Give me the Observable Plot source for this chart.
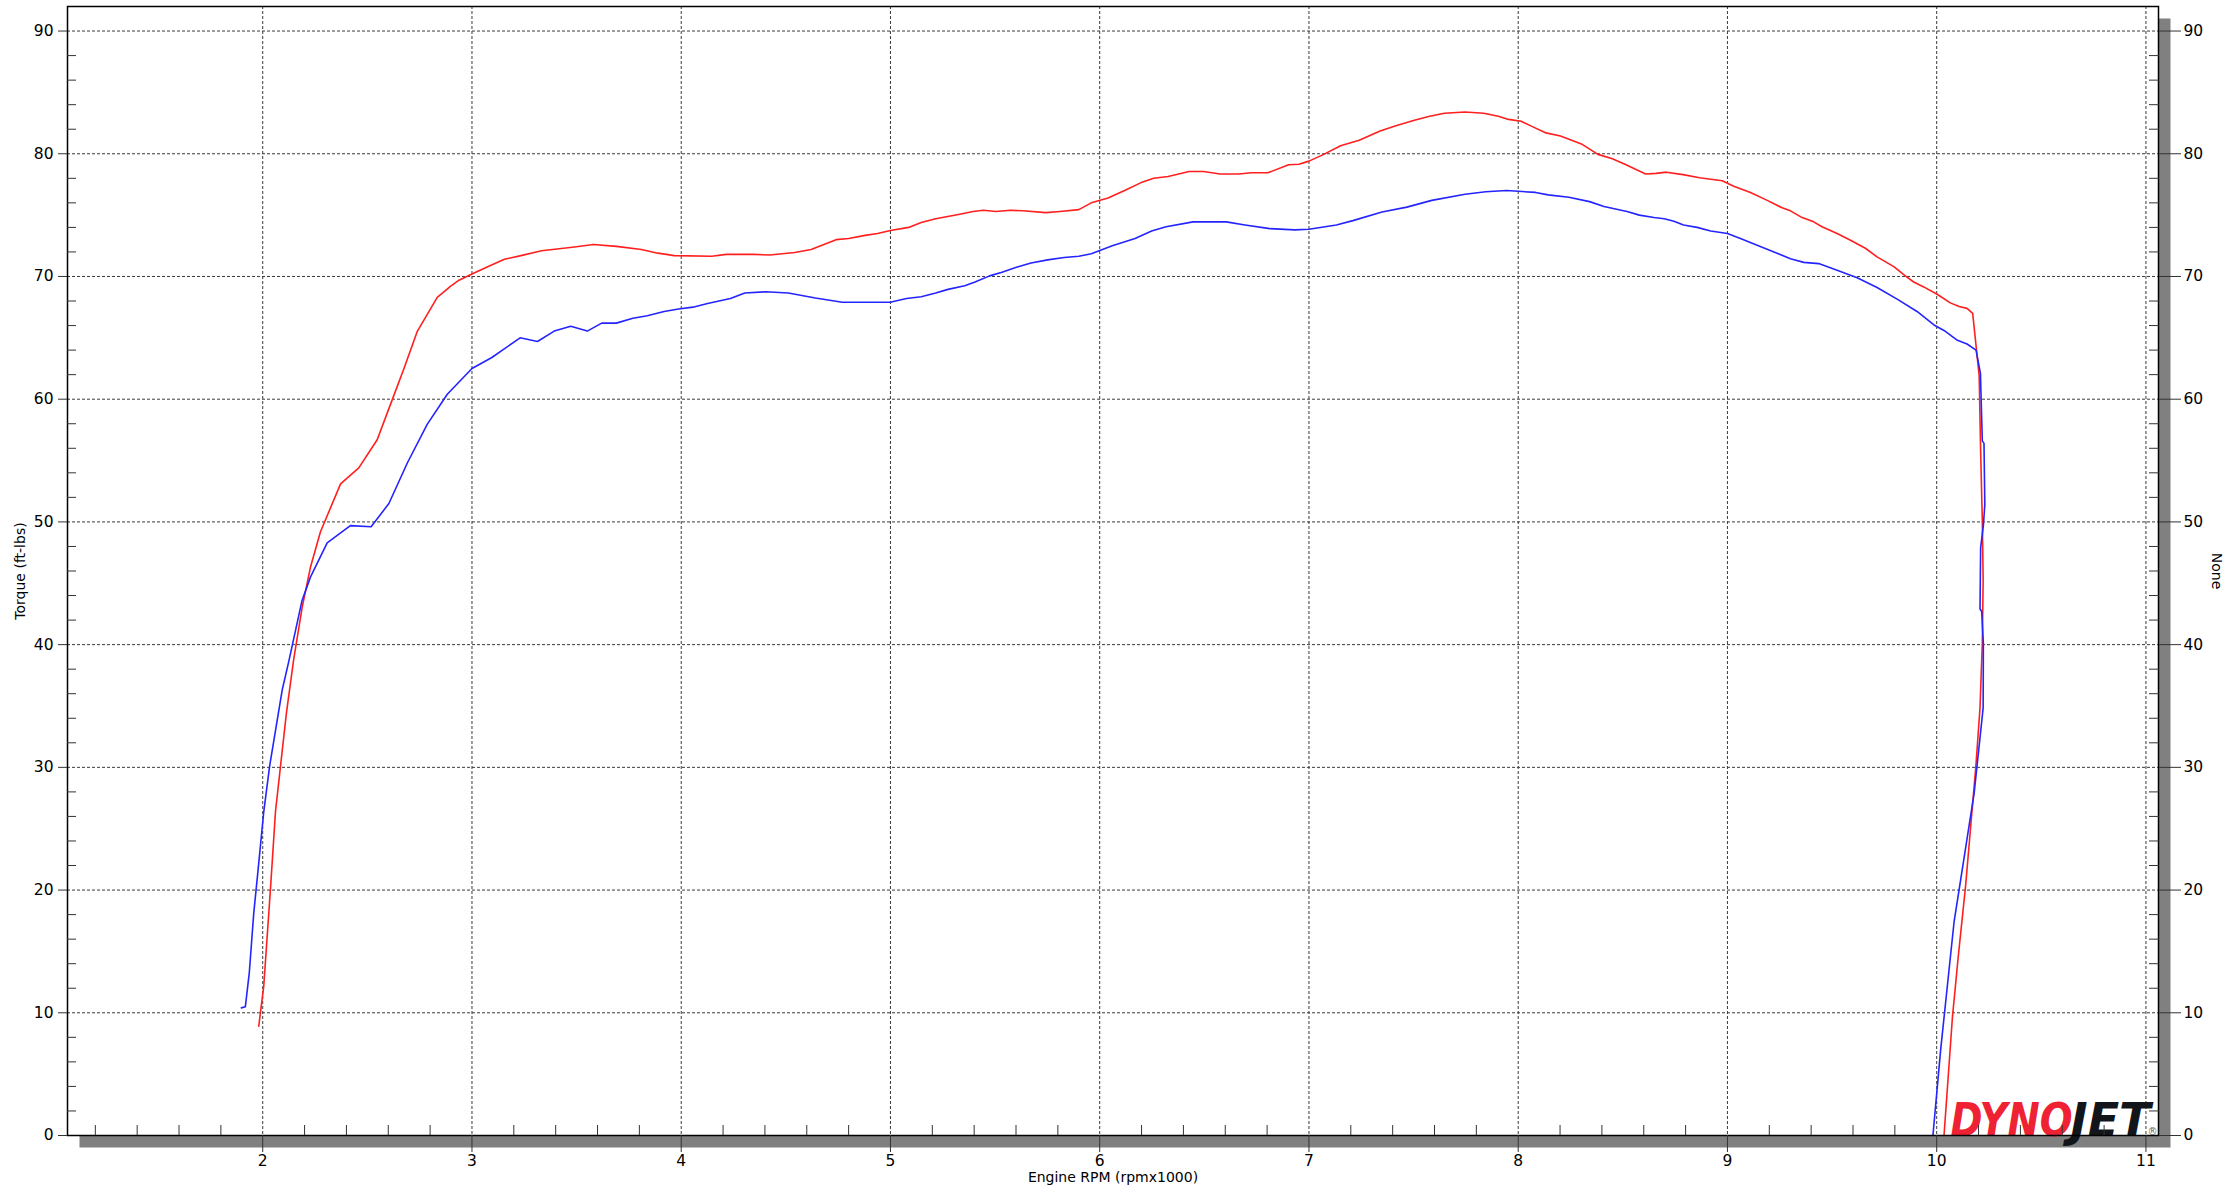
<!DOCTYPE html>
<html><head><meta charset="utf-8">
<script src="https://cdn.jsdelivr.net/npm/d3@7"></script>
<script src="https://cdn.jsdelivr.net/npm/@observablehq/plot@0.6"></script>
<style>html,body{margin:0;padding:0;background:#fff;overflow:hidden}</style>
</head><body><div id="chart"></div><script>
// ---- data ----
const redRpm = [1.981,2.005,2.037,2.061,2.085,2.113,2.148,2.188,2.228,2.276,2.372,2.459,2.547,2.611,2.675,2.738,2.834,2.897,2.938,3.0,3.075,3.155,3.234,3.333,3.49,3.58,3.69,3.81,3.888,3.967,4.146,4.215,4.344,4.423,4.542,4.621,4.74,4.8,4.879,4.938,5.0,5.087,5.147,5.216,5.325,5.395,5.444,5.504,5.573,5.633,5.742,5.81,5.9,5.96,6.04,6.119,6.198,6.258,6.327,6.427,6.496,6.575,6.665,6.724,6.804,6.903,6.952,7.0,7.071,7.151,7.24,7.34,7.419,7.508,7.577,7.647,7.746,7.835,7.905,7.954,8.014,8.063,8.133,8.202,8.302,8.381,8.45,8.51,8.609,8.659,8.708,8.788,8.867,8.975,9.03,9.11,9.19,9.261,9.301,9.357,9.412,9.452,9.524,9.588,9.659,9.715,9.795,9.85,9.89,9.938,10.002,10.065,10.107,10.145,10.172,10.203,10.21,10.218,10.222,10.218,10.207,10.187,10.163,10.139,10.102,10.075,10.035];
const redTorque = [8.9,12.2,20.1,26.4,30.1,34.4,38.8,43.0,46.3,49.2,53.1,54.4,56.7,59.6,62.5,65.5,68.3,69.2,69.7,70.2,70.8,71.4,71.7,72.1,72.4,72.6,72.45,72.2,71.9,71.7,71.65,71.8,71.8,71.75,71.95,72.2,73.0,73.1,73.35,73.5,73.75,74.0,74.4,74.7,75.05,75.3,75.4,75.3,75.4,75.35,75.2,75.3,75.45,76.0,76.4,77.0,77.65,78.0,78.15,78.55,78.55,78.35,78.35,78.45,78.45,79.1,79.15,79.4,79.95,80.65,81.1,81.85,82.3,82.75,83.05,83.3,83.4,83.3,83.05,82.8,82.65,82.25,81.7,81.45,80.8,79.95,79.6,79.15,78.35,78.4,78.5,78.3,78.05,77.8,77.35,76.85,76.2,75.6,75.35,74.8,74.45,74.05,73.5,72.95,72.3,71.6,70.8,70.05,69.55,69.15,68.55,67.85,67.55,67.4,67.0,61.9,55.8,50.1,45.3,40.1,34.85,30.05,25.3,20.5,14.4,9.6,0.0];
const blueRpm = [1.898,1.917,1.936,1.957,1.981,2.005,2.033,2.061,2.093,2.124,2.188,2.228,2.308,2.356,2.419,2.518,2.603,2.691,2.786,2.882,3.0,3.095,3.23,3.313,3.393,3.472,3.551,3.62,3.69,3.769,3.838,3.918,3.987,4.056,4.126,4.235,4.304,4.403,4.512,4.641,4.77,4.998,5.077,5.147,5.216,5.275,5.355,5.404,5.474,5.533,5.602,5.672,5.751,5.83,5.9,5.96,6.06,6.169,6.248,6.317,6.446,6.605,6.694,6.813,6.933,7.0,7.131,7.21,7.349,7.468,7.587,7.746,7.845,7.944,8.083,8.143,8.242,8.341,8.41,8.52,8.579,8.649,8.698,8.744,8.79,8.855,8.92,9.0,9.062,9.142,9.237,9.301,9.365,9.436,9.524,9.62,9.715,9.811,9.906,9.987,10.035,10.099,10.145,10.188,10.209,10.218,10.226,10.23,10.223,10.21,10.207,10.215,10.223,10.222,10.179,10.147,10.115,10.083,10.051,10.019,9.982];
const blueTorque = [10.4,10.5,13.3,18.1,22.2,26.4,30.1,33.0,36.3,38.6,43.6,45.5,48.3,48.9,49.7,49.6,51.5,54.8,57.95,60.4,62.5,63.4,65.0,64.7,65.55,65.95,65.55,66.2,66.2,66.6,66.8,67.15,67.35,67.5,67.8,68.2,68.65,68.75,68.65,68.25,67.9,67.9,68.2,68.35,68.65,68.95,69.25,69.55,70.05,70.35,70.75,71.1,71.35,71.55,71.65,71.85,72.5,73.1,73.7,74.05,74.45,74.45,74.2,73.9,73.8,73.85,74.2,74.55,75.25,75.65,76.2,76.7,76.9,77.0,76.85,76.65,76.45,76.1,75.7,75.3,75.0,74.8,74.7,74.5,74.2,74.0,73.7,73.5,73.1,72.55,71.9,71.45,71.15,71.05,70.5,69.9,69.1,68.15,67.15,66.05,65.6,64.8,64.5,64.0,62.1,56.6,56.4,51.4,49.7,47.9,42.9,42.7,40.1,34.85,27.9,24.4,20.9,17.4,12.2,7.0,0.0];
const xMajorTicks = [2,3,4,5,6,7,8,9,10,11];
const xMinorTicks = [1.2,1.4,1.6,1.8,2.2,2.4,2.6,2.8,3.2,3.4,3.6,3.8,4.2,4.4,4.6,4.8,5.2,5.4,5.6,5.8,6.2,6.4,6.6,6.8,7.2,7.4,7.6,7.8,8.2,8.4,8.6,8.8,9.2,9.4,9.6,9.8,10.2,10.4,10.6,10.8];
const yMajorTicks = [0,10,20,30,40,50,60,70,80,90];
const yMinorTicks = [2,4,6,8,12,14,16,18,22,24,26,28,32,34,36,38,42,44,46,48,52,54,56,58,62,64,66,68,72,74,76,78,82,84,86,88];
const xDomain = [1.067, 11.06];
const yDomain = [0, 92];
const xTitle = ["Engine RPM (rpmx1000)"];
const yTitle = ["Torque (ft-lbs)"];
const y2Title = ["None"];
const logoRed = ["DYNO"];
const logoBlack = ["JET"];
const logoMark = ["®"];

// ---- chart ----
const red = redRpm.map((x, i) => ({rpm: x, tq: redTorque[i]}));
const blue = blueRpm.map((x, i) => ({rpm: x, tq: blueTorque[i]}));
const gridStyle = {stroke: "#3a3a3a", strokeOpacity: 1, strokeDasharray: "3,2", strokeWidth: 1};
const tickStroke = "#333";
const tickFont = 15.5;
const intFmt = d => String(d);
const noText = () => "";

const chart = Plot.plot({
  width: 2228, height: 1191,
  marginLeft: 67, marginRight: 70, marginTop: 6, marginBottom: 56,
  style: {fontFamily: "DejaVu Sans, Verdana, sans-serif", fontSize: "15px", background: "#fff", color: "#000"},
  x: {domain: xDomain},
  y: {domain: yDomain},
  marks: [
    Plot.frame({fill: "#808080", stroke: "none", dx: 12, dy: 12}),
    Plot.frame({fill: "#fff", stroke: "none"}),
    Plot.gridY(yMajorTicks.filter(v => v > 0), gridStyle),
    Plot.gridX(xMajorTicks, gridStyle),
    Plot.line(red, {x: "rpm", y: "tq", stroke: "#ff1f1f", strokeWidth: 1.6}),
    Plot.line(blue, {x: "rpm", y: "tq", stroke: "#2424ff", strokeWidth: 1.6}),
    Plot.text(logoRed, {frameAnchor: "bottom-right", dx: -86, text: d => d, fill: "#ee2233", fontSize: 47, fontWeight: 900, fontStyle: "italic", textAnchor: "end", lineAnchor: "bottom", fontFamily: "DejaVu Sans"}),
    Plot.text(logoBlack, {frameAnchor: "bottom-right", dx: -8, text: d => d, fill: "#12161a", fontSize: 47, fontWeight: 900, fontStyle: "italic", textAnchor: "end", lineAnchor: "bottom", fontFamily: "DejaVu Sans"}),
    Plot.text(logoMark, {frameAnchor: "bottom-right", dx: -1, dy: -1, text: d => d, fill: "#666", fontSize: 10, textAnchor: "end", lineAnchor: "bottom"}),
    Plot.frame({stroke: "#000", strokeWidth: 1.5}),
    // left axis
    Plot.axisY(yMajorTicks, {anchor: "left", tickSize: 9, tickPadding: 5, label: null, tickFormat: intFmt, fontSize: tickFont, stroke: tickStroke, fill: "#000"}),
    Plot.axisY(yMinorTicks, {anchor: "left", tickSize: 9, dx: 9, tickFormat: noText, fill: "none", label: null, stroke: tickStroke}),
    // right axis
    Plot.axisY(yMajorTicks, {anchor: "right", tickSize: 22, tickPadding: 3, label: null, tickFormat: intFmt, fontSize: tickFont, stroke: tickStroke, fill: "#000"}),
    Plot.axisY(yMinorTicks, {anchor: "right", tickSize: 10, dx: -10, tickFormat: noText, fill: "none", label: null, stroke: tickStroke}),
    // bottom axis
    Plot.axisX(xMajorTicks, {anchor: "bottom", tickSize: 17, tickPadding: 2, label: null, tickFormat: intFmt, fontSize: tickFont, stroke: tickStroke, fill: "#000"}),
    Plot.axisX(xMinorTicks, {anchor: "bottom", tickSize: 10, dy: -10, tickFormat: noText, fill: "none", label: null, stroke: tickStroke}),
    // titles
    Plot.text(yTitle, {frameAnchor: "left", dx: -47, rotate: -90, textAnchor: "middle", lineAnchor: "middle", text: d => d, fontSize: 14, fill: "#000"}),
    Plot.text(y2Title, {frameAnchor: "right", dx: 58, rotate: 90, textAnchor: "middle", lineAnchor: "middle", text: d => d, fontSize: 14, fill: "#000"}),
    Plot.text(xTitle, {frameAnchor: "bottom", dy: 42, textAnchor: "middle", lineAnchor: "middle", text: d => d, fontSize: 14, fill: "#000"})
  ]
});

// squeeze the logo words to the reference widths
d3.select(chart).selectAll("text").each(function() {
  const t = this.textContent;
  if (t === "DYNO") { this.setAttribute("textLength", 122); this.setAttribute("lengthAdjust", "spacingAndGlyphs"); }
  if (t === "JET") { this.setAttribute("textLength", 80); this.setAttribute("lengthAdjust", "spacingAndGlyphs"); }
});
document.getElementById("chart").appendChild(chart);
</script></body></html>
